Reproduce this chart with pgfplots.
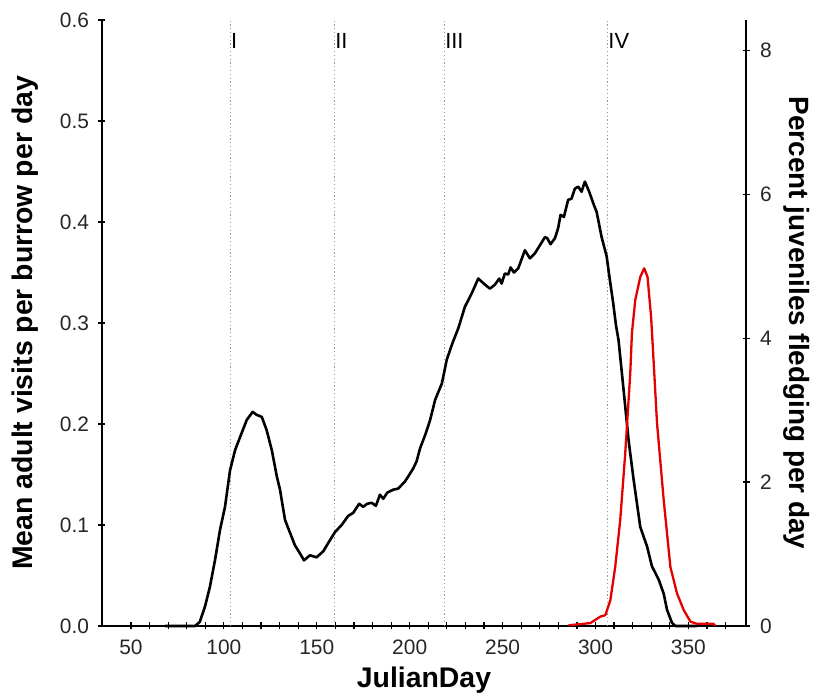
\documentclass[border=0pt]{standalone}
\usepackage{pgfplots}
\pgfplotsset{compat=1.18}
\usepackage{fontspec}
\setmainfont{Liberation Sans}
\pgfplotstableread{
d v
68.3 0
84.5 0
87 0.004
89.8 0.019
92.5 0.039
95.2 0.065
97.9 0.095
100.6 0.118
103.3 0.154
106 0.174
108.7 0.187
112.3 0.204
115.5 0.212
117.7 0.209
120.4 0.207
123 0.194
125.8 0.174
128.5 0.148
130.2 0.135
132.9 0.105
134.6 0.097
138.2 0.080
140.9 0.072
143.1 0.065
146.3 0.070
149.9 0.068
153.5 0.074
157.1 0.085
159.8 0.093
163.4 0.100
166.9 0.109
169.6 0.112
172.8 0.121
175 0.118
177.1 0.121
179.5 0.122
181.8 0.119
184 0.130
185.8 0.126
187.9 0.132
191.2 0.135
193.8 0.136
197.4 0.143
199.2 0.148
201.9 0.156
203.7 0.163
205.6 0.176
208.5 0.19
211 0.204
213.7 0.224
217.3 0.240
220 0.264
223 0.28
226.2 0.295
229.7 0.316
233.3 0.329
236.9 0.344
240.5 0.338
243.2 0.334
245.9 0.338
248.2 0.344
249.5 0.339
251.2 0.349
253 0.348
254.3 0.355
256.1 0.350
258.4 0.354
262 0.372
264.7 0.364
267.4 0.369
270.1 0.377
272.8 0.385
274 0.384
275.8 0.378
278.2 0.384
279.9 0.394
281.2 0.407
283 0.405
285.3 0.422
287.1 0.423
288.9 0.433
290.7 0.435
292.5 0.430
294.3 0.440
296.6 0.430
299.1 0.417
300.6 0.410
303.3 0.385
306 0.366
307.7 0.343
309.5 0.320
311 0.298
312.4 0.283
315.1 0.234
317.8 0.184
320.5 0.145
324.1 0.098
327.7 0.079
330.4 0.059
334 0.046
336.7 0.032
338.5 0.016
341.2 0.003
343 0
354.6 0
}\adults
\pgfplotstableread{
d p
285.5 0.01
297.2 0.04
302.6 0.13
305.3 0.15
308 0.36
310.6 0.82
313.3 1.47
316 2.4
318.7 3.51
319.6 4.07
321.4 4.53
324.1 4.85
326.2 4.97
328 4.85
329.9 4.30
330.9 3.85
333.1 2.82
336.7 1.75
340.3 0.82
343.9 0.45
347.5 0.22
351.1 0.06
354.7 0.03
363.4 0.03
364.5 0
}\juveniles
\begin{document}
\begin{tikzpicture}
\pgfplotsset{
  base/.style={
    width=644bp, height=606bp, scale only axis,
    xmin=34.4, xmax=381,
    tick align=outside,
    major tick length=7bp, minor tick length=7bp,
    every tick/.style={black, line width=1.2bp},
    /pgf/number format/assume math mode=true,
    tick label style={font=\fontsize{21}{25}\selectfont, text=black!85},
  },
  noarrows/.style={
    axis line style={line width=1.6bp, -},
    every outer x axis line/.append style={-},
    every outer y axis line/.append style={-},
    every inner x axis line/.append style={-},
    every inner y axis line/.append style={-},
  }
}
\begin{axis}[base,
  axis x line=bottom, axis y line=left, noarrows,
  ymin=0, ymax=0.6,
  xtick={50,100,...,350}, minor xtick={50,60,...,370},
  ytick={0,0.1,0.2,0.3,0.4,0.5,0.6},
  yticklabel style={/pgf/number format/fixed, /pgf/number format/fixed zerofill, /pgf/number format/precision=1, xshift=-6bp},
  xticklabel style={yshift=-7bp},
  xlabel={JulianDay},
  xlabel style={at={(axis description cs:0.5,-0.09)}, anchor=center, font=\bfseries\fontsize{28.5}{32}\selectfont},
  ylabel={Mean adult visits per burrow per day},
  ylabel style={at={(axis description cs:-0.1196,0.5)}, anchor=center, font=\bfseries\fontsize{28.5}{32}\selectfont},
  clip=false,
]
\coordinate (SW) at (rel axis cs:0,0);
\coordinate (NE) at (rel axis cs:1,1);
\addplot[gray!80, line width=1bp, dash pattern=on 1.2bp off 2.6bp] coordinates {(103.3,0) (103.3,0.6)};
\addplot[gray!80, line width=1bp, dash pattern=on 1.2bp off 2.6bp] coordinates {(159.3,0) (159.3,0.6)};
\addplot[gray!80, line width=1bp, dash pattern=on 1.2bp off 2.6bp] coordinates {(218.5,0) (218.5,0.6)};
\addplot[gray!80, line width=1bp, dash pattern=on 1.2bp off 2.6bp] coordinates {(306.3,0) (306.3,0.6)};
\node[anchor=west, inner sep=1bp, font=\fontsize{22}{26}\selectfont] at (axis cs:103.3,0.579) {I};
\node[anchor=west, inner sep=1bp, font=\fontsize{22}{26}\selectfont] at (axis cs:159.3,0.579) {II};
\node[anchor=west, inner sep=1bp, font=\fontsize{22}{26}\selectfont] at (axis cs:218.5,0.579) {III};
\node[anchor=west, inner sep=1bp, font=\fontsize{22}{26}\selectfont] at (axis cs:306.3,0.579) {IV};
\addplot[black, line width=2.6bp, line join=round] table[x=d, y=v] {\adults};
\end{axis}
\begin{axis}[base,
  axis x line=none, axis y line=right, noarrows,
  ymin=0, ymax=8.42,
  ytick={0,2,4,6,8},
  yticklabel style={xshift=7bp},
  ylabel={Percent juveniles fledging per day},
  ylabel style={at={(axis description cs:1.0785,0.5)}, anchor=center, rotate=180, font=\bfseries\fontsize{28}{32}\selectfont},
]
\addplot[red!90!black, line width=2.3bp, line join=round] table[x=d, y=p] {\juveniles};
\end{axis}
\pgfresetboundingbox
\path ([shift={(-102bp,-70bp)}]SW) rectangle ([shift={(67bp,20bp)}]NE);
\end{tikzpicture}
\end{document}
